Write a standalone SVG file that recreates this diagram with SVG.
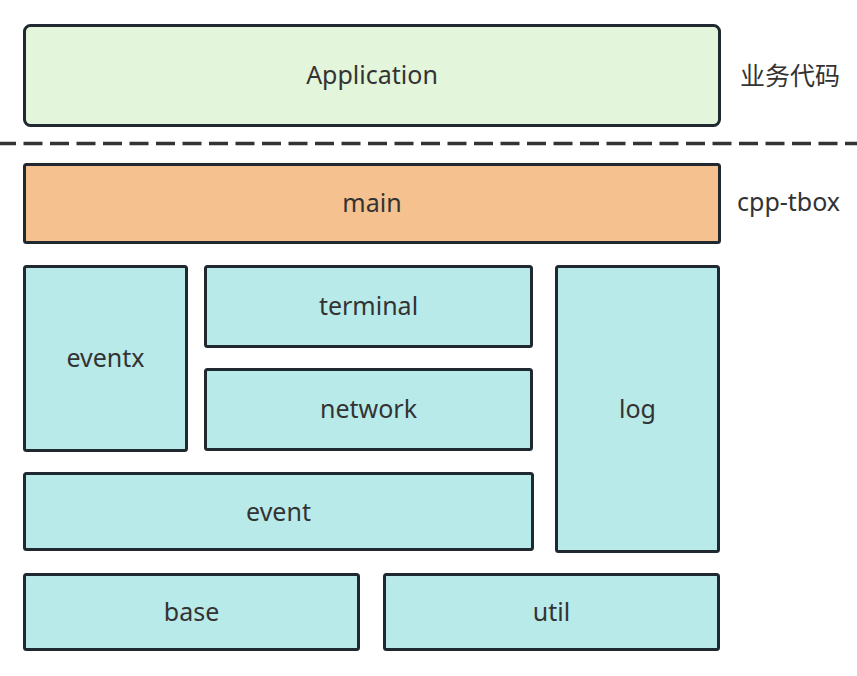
<svg xmlns="http://www.w3.org/2000/svg" width="857" height="676" viewBox="0 0 857 676">
<style>
.box{stroke:#1f292f;stroke-width:3}
.app{fill:#e3f5da}
.main{fill:#f4c18f}
.mod{fill:#b8eaea}
text{font-family:"Noto Sans","Noto Sans CJK SC",sans-serif;font-size:25px;fill:#333;text-anchor:middle}
.side{text-anchor:start}
</style>
<rect width="857" height="676" fill="#ffffff"/>
<g id="connectors">
<line x1="-3" y1="143.5" x2="857" y2="143.5" stroke="#333" stroke-width="3.5" stroke-dasharray="19 7.5"/>
</g>
<g id="application"><rect class="box app" x="24.5" y="25.5" width="695" height="100" rx="6"/><text x="372" y="84">Application</text></g>
<g id="main"><rect class="box main" x="24.5" y="164.5" width="695" height="78" rx="2"/><text x="372" y="212">main</text></g>
<g id="eventx"><rect class="box mod" x="24.5" y="266.5" width="162" height="184" rx="2"/><text x="105.5" y="367">eventx</text></g>
<g id="terminal"><rect class="box mod" x="205.5" y="266.5" width="326" height="80" rx="2"/><text x="368.5" y="315">terminal</text></g>
<g id="network"><rect class="box mod" x="205.5" y="369.5" width="326" height="80" rx="2"/><text x="368.5" y="418">network</text></g>
<g id="log"><rect class="box mod" x="556.5" y="266.5" width="162" height="285" rx="2"/><text x="637.5" y="418">log</text></g>
<g id="event"><rect class="box mod" x="24.5" y="473.5" width="508" height="76" rx="2"/><text x="278.5" y="521">event</text></g>
<g id="base"><rect class="box mod" x="24.5" y="574.5" width="334" height="75" rx="2"/><text x="191.5" y="621">base</text></g>
<g id="util"><rect class="box mod" x="384.5" y="574.5" width="334" height="75" rx="2"/><text x="551.5" y="621">util</text></g>
<g id="label-business"><text class="side" x="740" y="85">业务代码</text></g>
<g id="label-cpptbox"><text class="side" x="737" y="211">cpp-tbox</text></g>
</svg>
